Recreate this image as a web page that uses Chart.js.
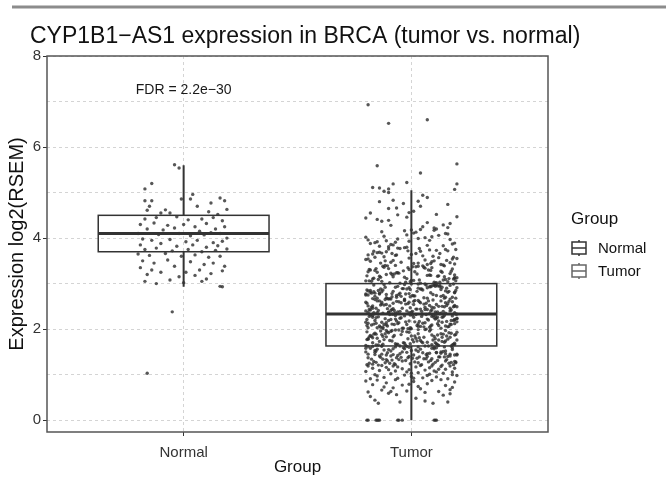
<!DOCTYPE html>
<html>
<head>
<meta charset="utf-8">
<script src="https://cdn.jsdelivr.net/npm/chart.js@4/dist/chart.umd.min.js"></script>
<style>
  html, body { margin: 0; padding: 0; background: #fff; }
</style>
</head>
<body>
<canvas id="chart" width="666" height="481"></canvas>
<script>
// ---- data ----
const chartTitle = 'CYP1B1\u2212AS1 expression in BRCA (tumor vs. normal)';
const fdrLabel = 'FDR = 2.2e\u221230';
const fdrAt = [1, 7.25];

const groups = ['Normal', 'Tumor'];
const groupPos = [1, 2];
const yTicks = [0, 2, 4, 6, 8];

// box stats
const boxLow = [2.93, 0.0];
const boxQ1 = [3.70, 1.63];
const boxMedian = [4.10, 2.33];
const boxQ3 = [4.50, 3.00];
const boxHigh = [5.60, 5.05];

// jittered points: [x jitter in 1/100 of a category, expression * 100]
const normalPoints = [
  [-4,561],[-2,554],[-14,520],[-17,508],[4,496],[3,486],[16,488],[18,482],[-17,482],[-14,482],
  [-1,486],[12,477],[6,470],[19,463],[-16,461],[-8,462],[-15,470],[-10,455],[-6,455],[11,458],
  [15,452],[-17,442],[-12,445],[-3,447],[2,440],[8,442],[13,445],[17,438],[-19,430],[-13,433],
  [-7,428],[0,430],[5,425],[10,432],[14,420],[18,425],[-16,420],[-9,418],[-4,422],[7,415],
  [12,412],[-20,410],[-11,408],[-2,410],[3,405],[9,407],[16,410],[19,400],[-18,398],[-14,395],
  [-6,397],[1,392],[6,395],[13,390],[17,393],[-19,385],[-10,388],[-3,382],[4,385],[10,380],
  [15,383],[-17,375],[-12,378],[-5,372],[2,375],[8,370],[14,373],[19,376],[-20,365],[-15,362],
  [-8,366],[-1,360],[5,363],[11,358],[16,360],[-18,350],[-13,345],[-7,352],[3,348],[9,342],
  [13,345],[18,338],[-19,335],[-14,330],[-4,338],[1,325],[7,330],[12,322],[17,328],[-16,320],
  [-10,325],[-2,315],[5,318],[10,310],[-17,305],[-12,300],[-6,308],[0,302],[8,305],[16,294],
  [17,293],[-5,238],[-16,103]
];

const tumorPoints = [
  // zeros and the sparse bottom
  [-19,0],[-15,0],[-14,0],[-6,0],[-4,0],[10,0],[11,0],[-19.5,0],[-14.5,0],[-5.5,0],[10.5,0],[-15.5,0],
  [-16,44],[-14.5,37],[-5,40],[2,48],[6,42],[9.5,37],[16,40],[17,58],[14,55],[-6.5,56],[-18,52],[-10,59],
  [-19,62],[-13,66],[-8,71],[-2,64],[4,69],[12,63],[18,72],[-17,78],[-11,82],[-4,77],[1,85],[7,80],[15,76],
  [19,84],[-15,88],[-7,89],[3,74],[9,87],[13,89],[-20,86],[-9,63],[6,61],[17,67],[-1,79],[-12,73],
  [-18,91],[-12,94],[-6,92],[0,96],[5,93],[11,95],[16,91],[20,98],[-16,100],[-9,102],[-3,99],[3,104],
  [8,101],[14,103],[18,106],[-20,107],[-14,109],[-7,108],[-1,111],[6,110],[10,108],[15,112],[-17,114],
  [-11,116],[-4,113],[2,117],[8,115],[13,118],[19,114],[-19,119],[-13,120],[-8,119],[0,103],[4,120],
  [11,106],[17,119],[-15,97],[-2,106],[7,98],[12,112],[-10,111],[1,92],[18,100],[-6,117],[9,119],
  // 1.2 - 1.4
  [7.5,128],[-12.5,134],[18.5,122],[-1.5,137],[-18.5,125],[11.5,131],[3.5,139],[-7.5,124],[15.5,133],[-15.5,127],
  [0.5,136],[9.5,123],[-10.5,130],[19.5,126],[-4.5,138],[13.5,121],[-16.5,129],[5.5,135],[-8.5,132],[16.5,125],
  [-0.5,124],[-13.5,138],[10.5,127],[-5.5,133],[19,129],[2.5,136],[-19.5,122],[8.5,131],[-11.5,126],[14.5,139],
  [-2.5,131],[17.5,127],[-6.5,137],[4.5,122],[-17.5,134],[12.5,139],[-9.5,125],[1.5,128],[-14.5,121],[6.5,135],
  [12,139],[-4,130],[-17,123],[9,135],[19.5,128],[-11,133],[3,126],[-19,137],[15,130],[-7,122],
  // 1.4 - 1.63
  [5,148],[-15,156],[17,141],[-1,160],[-9,152],[20,145],[-13,163],[1,143],[10,157],[-20,150],
  [-6,142],[14,151],[-18,158],[7,146],[-2,162],[16,140],[-10,155],[11,149],[-16,144],[3,161],
  [18,159],[-8,144],[0,153],[-14,141],[13,150],[-3,157],[8,147],[-19,162],[19,143],[-12,154],
  [-5,146],[10,160],[-16,149],[4,156],[-11,143],[15,152],[-1,140],[-20,158],[6,163],[17,145],
  [2,154],[-9,141],[13,147],[-17,162],[9,158],[-4,150],[20,143],[-13,145],[-7,161],[11,148],
  [7,140],[-13,163],[18,155],[-2,149],[-19,145],[11,159],[3,151],[-8,157],[15,146],[-16,153],
  [-15.5,152],[6.5,144],[-3.5,159],[14.5,161],[-10.5,148],
  // 1.63 - 2.0
  [7,171],[-13,188],[18,165],[-2,194],[-19,179],[11,168],[3,199],[-8,183],[15,174],[-16,191],
  [0,185],[9,166],[-11,197],[20,176],[-5,163],[13,190],[-17,181],[5,170],[-9,195],[16,178],
  [-1,193],[-14,173],[10,184],[-6,167],[19,187],[2,180],[-20,164],[8,196],[-12,177],[14,189],
  [-3,169],[17,182],[-7,198],[4,175],[-18,186],[12,164],[-10,192],[1,172],[-15,180],[6,199],
  [12,176],[-4,195],[-17,170],[9,187],[19,166],[-11,183],[3,190],[-19,178],[15,197],[-7,168],
  [5.5,182],[-14.5,165],[17.5,191],[-0.5,200],[-8.5,174],[19.5,188],[-12.5,167],[1.5,185],[10.5,170],[-19.5,194],
  [-5.5,198],[14.5,171],[-17.5,184],[7.5,163],[-1.5,179],[16.5,192],[-9.5,175],[11.5,166],[-15.5,189],[3.5,181],
  [18.5,167],[-7.5,186],[0.5,177],[-13.5,196],[13.5,173],[-2.5,164],[8.5,199],[-18.5,183],[19,169],[-11.5,190],
  [-4.5,188],[10.5,179],[-15.5,165],[4.5,172],[-10.5,194],[15.5,185],[-0.5,168],[-19.5,177],[6.5,200],[17.5,163],
  [2.5,174],[-8.5,197],[13.5,182],[-16.5,189],[9.5,176],[-3.5,170],[20,193],[-12.5,184],[-6.5,166],[11.5,187],
  // 2.0 - 2.33
  [6,214],[-15,203],[1,226],[-10,219],[12,208],[-18,231],[4,206],[-7,222],[17,211],[-3,229],
  [14,227],[-12,210],[8,204],[-20,215],[2,232],[19,220],[-6,212],[10,225],[-14,207],[-1,218],
  [16,205],[-9,221],[5,213],[-17,230],[13,202],[-5,224],[20,216],[-11,209],[9,228],[0,201],
  [-16,219],[15,207],[-8,233],[3,212],[11,224],[-19,203],[-2,210],[18,229],[-13,215],[7,222],
  [-7,230],[-11,214],[3,206],[19,221],[9,209],[-17,226],[-4,202],[12,218],[-19,213],[20,233],
  [-19.5,208],[10.5,229],[1.5,216],[-12.5,204],[20,223],[-8.5,211],[-0.5,231],[17.5,219],[-14.5,227],[5.5,205],
  [3.5,217],[-15.5,225],[11.5,212],[-9.5,232],[16.5,206],[-1.5,201],[7.5,220],[-17.5,209],[14.5,230],[-5.5,214],
  [-11.5,223],[19,212],[-18.5,228],[8.5,207],[-2.5,216],[13.5,226],[-13.5,204],[0.5,231],[-7.5,210],[18.5,219],
  [17.5,210],[6.5,232],[-19.5,221],[-0.5,203],[15.5,217],[-10.5,207],[4.5,228],[-15.5,213],[10.5,222],[-4.5,225],
  [11.5,226],[-6.5,218],[-12.5,201],[20,224],[9.5,230],[-16.5,211],[13.5,215],[-3.5,202],[2.5,208],[-8.5,233],
  // 2.33 - 2.65
  [-9,241],[16,256],[-1,236],[-14,262],[10,247],[-6,238],[19,252],[2,244],[-20,259],[8,234],
  [-12,253],[14,239],[-3,264],[17,246],[-7,235],[4,258],[-18,242],[12,250],[-10,237],[1,261],
  [-15,236],[6,248],[7,243],[-13,255],[18,260],[-2,240],[-19,251],[11,234],[3,263],[-8,245],
  [15,258],[-16,265],[0,237],[9,242],[-11,254],[20,249],[-5,239],[13,262],[-17,246],[5,233],
  [4,244],[-17,251],[-8,257],[13,235],[-3,263],[17,240],[9,248],[-13,259],[-19,237],[1,254],
  [7.5,262],[-12.5,235],[18.5,249],[-1.5,256],[-18.5,243],[11.5,238],[3.5,260],[-7.5,241],[15.5,252],[-15.5,246],
  [0.5,239],[9.5,264],[-10.5,245],[19.5,233],[-4.5,258],[13.5,250],[-16.5,236],[5.5,255],[-8.5,243],[16.5,261],
  [-0.5,247],[-13.5,253],[10.5,238],[-5.5,260],[19,236],[2.5,244],[-19.5,257],[8.5,240],[-11.5,265],[14.5,249],
  [-2.5,255],[17.5,242],[-6.5,261],[4.5,239],[-17.5,248],[12.5,234],[-9.5,251],[1.5,263],[-14.5,241],[6.5,257],
  [19,250],[-10,237],[-4,246],[11,254],[-15,262],[6,243],[-20,240],[15,235],[-1,259],[8,252],
  // 2.65 - 3.0
  [13,272],[-4,289],[-17,267],[9,295],[19,280],[-11,276],[3,299],[-19,284],[15,270],[-7,292],
  [5,286],[-15,268],[17,296],[-1,278],[-9,266],[20,291],[-13,282],[1,273],[10,298],[-20,275],
  [-6,294],[14,274],[-18,285],[7,268],[-2,288],[16,281],[-10,266],[11,297],[-16,279],[3,290],
  [18,270],[-8,283],[0,299],[-14,277],[13,287],[-3,266],[8,293],[-19,275],[19,281],[-12,298],
  [-5,279],[10,296],[-16,272],[4,288],[-11,269],[15,284],[-1,291],[-20,277],[6,299],[17,266],
  [2.5,283],[-8.5,271],[13.5,292],[-16.5,297],[9.5,276],[-3.5,289],[19.5,268],[-12.5,286],[-6.5,274],[11.5,295],
  [6.5,297],[-14.5,285],[0.5,274],[-9.5,267],[12.5,293],[-17.5,279],[4.5,288],[-6.5,270],[16.5,283],[-2.5,277],
  [14.5,268],[-11.5,292],[8.5,280],[-19.5,286],[1.5,273],[18.5,299],[-5.5,276],[10.5,294],[-13.5,288],[-0.5,271],
  [15.5,290],[-8.5,278],[5.5,269],[-16.5,282],[12.5,296],[-4.5,272],[19.5,285],[-10.5,267],[8.5,293],[-0.5,287],
  [-18,281],[11,274],[-3,298],[7,291],[-14,279],
  // 3.0 - 3.4
  [7,318],[-13,305],[18,332],[-2,311],[-19,326],[11,302],[3,338],[-8,315],[15,309],[-16,329],
  [0,307],[9,335],[-11,320],[20,313],[-5,301],[13,327],[-17,310],[5,339],[-9,323],[16,304],
  [-1,331],[-14,316],[10,303],[-6,324],[19,312],[2,337],[-20,306],[8,319],[-12,336],[14,308],
  [-3,314],[17,322],[-7,340],[4,301],[-18,330],[12,317],[-10,333],[1,307],[-15,325],[6,334],
  [12.5,303],[-3.5,328],[-16.5,312],[8.5,318],[19.5,306],[-10.5,339],[2.5,321],[-18.5,331],[14.5,315],[-6.5,324],
  [5.5,336],[-14.5,309],[17.5,327],[-0.5,304],[-8.5,320],[19,313],[-12.5,338],[1.5,326],[10.5,301],[-19.5,317],
  [-5.5,323],[14.5,339],[-17.5,305],[7.5,330],[-1.5,335],[16.5,311],[-9.5,302],[11.5,316],[-15.5,333],[3.5,308],
  [18.5,310],[-7.5,321],[0.5,337],[-13.5,314],[13.5,325],[-2.5,303],[8.5,329],[-18.5,306],[19,319],[-11.5,340],
  // 3.4 - 3.8
  [6,352],[-15,368],[1,344],[-10,376],[12,357],[-18,349],[4,371],[-7,362],[17,346],[-3,379],
  [14,341],[-12,359],[8,374],[-20,353],[2,366],[19,343],[-6,378],[10,350],[-14,369],[-1,356],
  [16,372],[-9,347],[5,361],[-17,365],[13,342],[-5,377],[20,355],[-11,370],[9,348],[0,364],
  [-16,358],[15,375],[-8,351],[3,345],[11,373],[-19,363],[-2,380],[18,354],[-13,367],[7,342],
  [-6.5,363],[-11.5,350],[3.5,377],[18.5,358],[8.5,344],[-16.5,371],[-4.5,347],[12.5,366],[-19,354],[19.5,375],
  [9.5,360],[-13.5,345],[15.5,351],[-1.5,372],[-8.5,366],
  // 3.8 - 4.2
  [-9,386],[16,409],[-1,393],[-14,382],[10,417],[-6,398],[19,389],[2,413],[-20,402],[8,395],
  [-12,404],[14,383],[-3,416],[17,397],[-7,391],[4,419],[-18,388],[12,406],[-10,381],[1,411],
  [-15,392],[6,401],[7,384],[-13,414],[18,387],[-2,407],[-19,396],[11,420],[3,399],[-8,385],
  [15,410],[-16,390],[0,418],[9,403],[-11,394],
  // 4.2 - 4.6
  [5,425],[-15,441],[17,432],[-1,456],[-9,428],[20,447],[-13,437],[1,459],[10,422],[-20,444],
  [-6,451],[14,429],[-18,455],[7,434],[-2,446],[16,423],[-10,439],[11,452],
  // 4.6 - 5.1
  [-14,510],[-12,503],[-10,508],[-10,500],[5,494],[7,489],[3,481],[16,474],[-14,480],[-8,483],
  [-3.5,476],[-10,465],[-6.5,466],[4,470],
  // top outliers
  [-19,693],[-10,652],[7,660],[-15,559],[20,563],[4,543],[-2,522],[20,519],[19,507],[-17,511],[-8,519]
];

// ---- helpers ----
const FONT = '"Liberation Sans", Arial, Helvetica, sans-serif';
const boxWidth = 0.75;

function toXY(points, pos) {
  return points.map(p => ({ x: pos + p[0] / 100, y: p[1] / 100 }));
}

function drawBoxGlyph(ctx, cx, cy, w, h, color) {
  ctx.strokeStyle = color;
  ctx.lineWidth = 1.5;
  ctx.beginPath();
  ctx.moveTo(cx, cy - h / 2); ctx.lineTo(cx, cy + h / 2);
  ctx.stroke();
  ctx.fillStyle = '#fff';
  ctx.fillRect(cx - w / 2, cy - h / 2 + 2, w, h - 4);
  ctx.strokeRect(cx - w / 2, cy - h / 2 + 2, w, h - 4);
  ctx.beginPath();
  ctx.moveTo(cx - w / 2, cy); ctx.lineTo(cx + w / 2, cy);
  ctx.stroke();
}

const boxPlotPlugin = {
  id: 'boxPlot',
  afterDatasetsDraw(chart) {
    const { ctx, chartArea: a, scales: { x, y } } = chart;
    ctx.save();
    ctx.strokeStyle = '#333';
    groupPos.forEach((p, i) => {
      const cx = x.getPixelForValue(p);
      const l = x.getPixelForValue(p - boxWidth / 2);
      const r = x.getPixelForValue(p + boxWidth / 2);
      const q1 = y.getPixelForValue(boxQ1[i]);
      const q3 = y.getPixelForValue(boxQ3[i]);
      const md = y.getPixelForValue(boxMedian[i]);
      // whiskers
      ctx.lineWidth = 2;
      ctx.beginPath();
      ctx.moveTo(cx, y.getPixelForValue(boxHigh[i])); ctx.lineTo(cx, q3);
      ctx.moveTo(cx, q1); ctx.lineTo(cx, y.getPixelForValue(boxLow[i]));
      ctx.stroke();
      // box
      ctx.lineWidth = 1.5;
      ctx.strokeRect(l, q3, r - l, q1 - q3);
      // median
      ctx.lineWidth = 3;
      ctx.beginPath();
      ctx.moveTo(l, md); ctx.lineTo(r, md);
      ctx.stroke();
    });
    // panel frame
    ctx.lineWidth = 1.5;
    ctx.strokeStyle = '#555';
    ctx.strokeRect(a.left, a.top, a.right - a.left, a.bottom - a.top);
    // FDR annotation
    ctx.fillStyle = '#1a1a1a';
    ctx.font = '14px ' + FONT;
    ctx.textAlign = 'center';
    ctx.textBaseline = 'middle';
    ctx.fillText(fdrLabel, x.getPixelForValue(fdrAt[0]), y.getPixelForValue(fdrAt[1]));
    ctx.restore();
  },
  afterDraw(chart) {
    const { ctx } = chart;
    ctx.save();
    // rule across the top
    ctx.strokeStyle = '#8c8c8c';
    ctx.lineWidth = 3;
    ctx.beginPath();
    ctx.moveTo(12, 7); ctx.lineTo(666, 7);
    ctx.stroke();
    // title
    ctx.fillStyle = '#111';
    ctx.font = '23px ' + FONT;
    ctx.textAlign = 'left';
    ctx.textBaseline = 'middle';
    ctx.fillText(chartTitle, 30, 37);
    // legend
    ctx.font = '17px ' + FONT;
    ctx.fillText('Group', 571, 219);
    ctx.font = '15px ' + FONT;
    const colors = ['#333', '#666'];
    groups.forEach((g, i) => {
      const cy = 248 + i * 23;
      drawBoxGlyph(ctx, 579, cy, 14, 16, colors[i]);
      ctx.fillStyle = '#111';
      ctx.fillText(g, 598, cy + 1);
    });
    ctx.restore();
  }
};

const gridColor = '#d4d4d4';

new Chart(document.getElementById('chart'), {
  type: 'scatter',
  data: {
    datasets: [
      { label: groups[0], data: toXY(normalPoints, groupPos[0]) },
      { label: groups[1], data: toXY(tumorPoints, groupPos[1]) }
    ]
  },
  options: {
    responsive: false,
    animation: false,
    layout: { padding: { top: 56, right: 118, left: 0, bottom: 0 } },
    elements: {
      point: { radius: 1.7, backgroundColor: 'rgba(45,45,45,0.8)', borderWidth: 0 }
    },
    plugins: {
      legend: { display: false },
      tooltip: { enabled: false },
      title: { display: false }
    },
    scales: {
      x: {
        type: 'linear',
        min: 0.4,
        max: 2.6,
        afterBuildTicks: axis => { axis.ticks = groupPos.map(v => ({ value: v })); },
        afterFit: axis => { axis.height = 49; },
        ticks: {
          callback: v => groups[groupPos.indexOf(v)] ?? '',
          color: '#333',
          font: { family: FONT, size: 15 },
          padding: 8,
          maxRotation: 0
        },
        grid: { color: gridColor, tickColor: '#333', tickLength: 4, lineWidth: 1 },
        border: { display: false, dash: [3, 3] },
        title: {
          display: true,
          text: 'Group',
          color: '#111',
          font: { family: FONT, size: 17 },
          padding: { top: 0, bottom: 3 }
        }
      },
      y: {
        min: -0.26,
        max: 8,
        afterBuildTicks: axis => {
          axis.ticks = [0, 1, 2, 3, 4, 5, 6, 7, 8].map(v => ({ value: v }));
        },
        afterFit: axis => { axis.width = 47; },
        ticks: {
          callback: v => yTicks.includes(v) ? String(v) : '',
          color: '#333',
          font: { family: FONT, size: 15 },
          padding: 2
        },
        grid: {
          color: gridColor,
          tickColor: ctx => yTicks.includes(ctx.tick.value) ? '#333' : 'rgba(0,0,0,0)',
          tickLength: 4,
          lineWidth: 1
        },
        border: { display: false, dash: [3, 3] },
        title: {
          display: true,
          text: 'Expression log2(RSEM)',
          color: '#111',
          font: { family: FONT, size: 20 },
          padding: { top: 5, bottom: 0 }
        }
      }
    }
  },
  plugins: [boxPlotPlugin]
});
</script>
</body>
</html>
